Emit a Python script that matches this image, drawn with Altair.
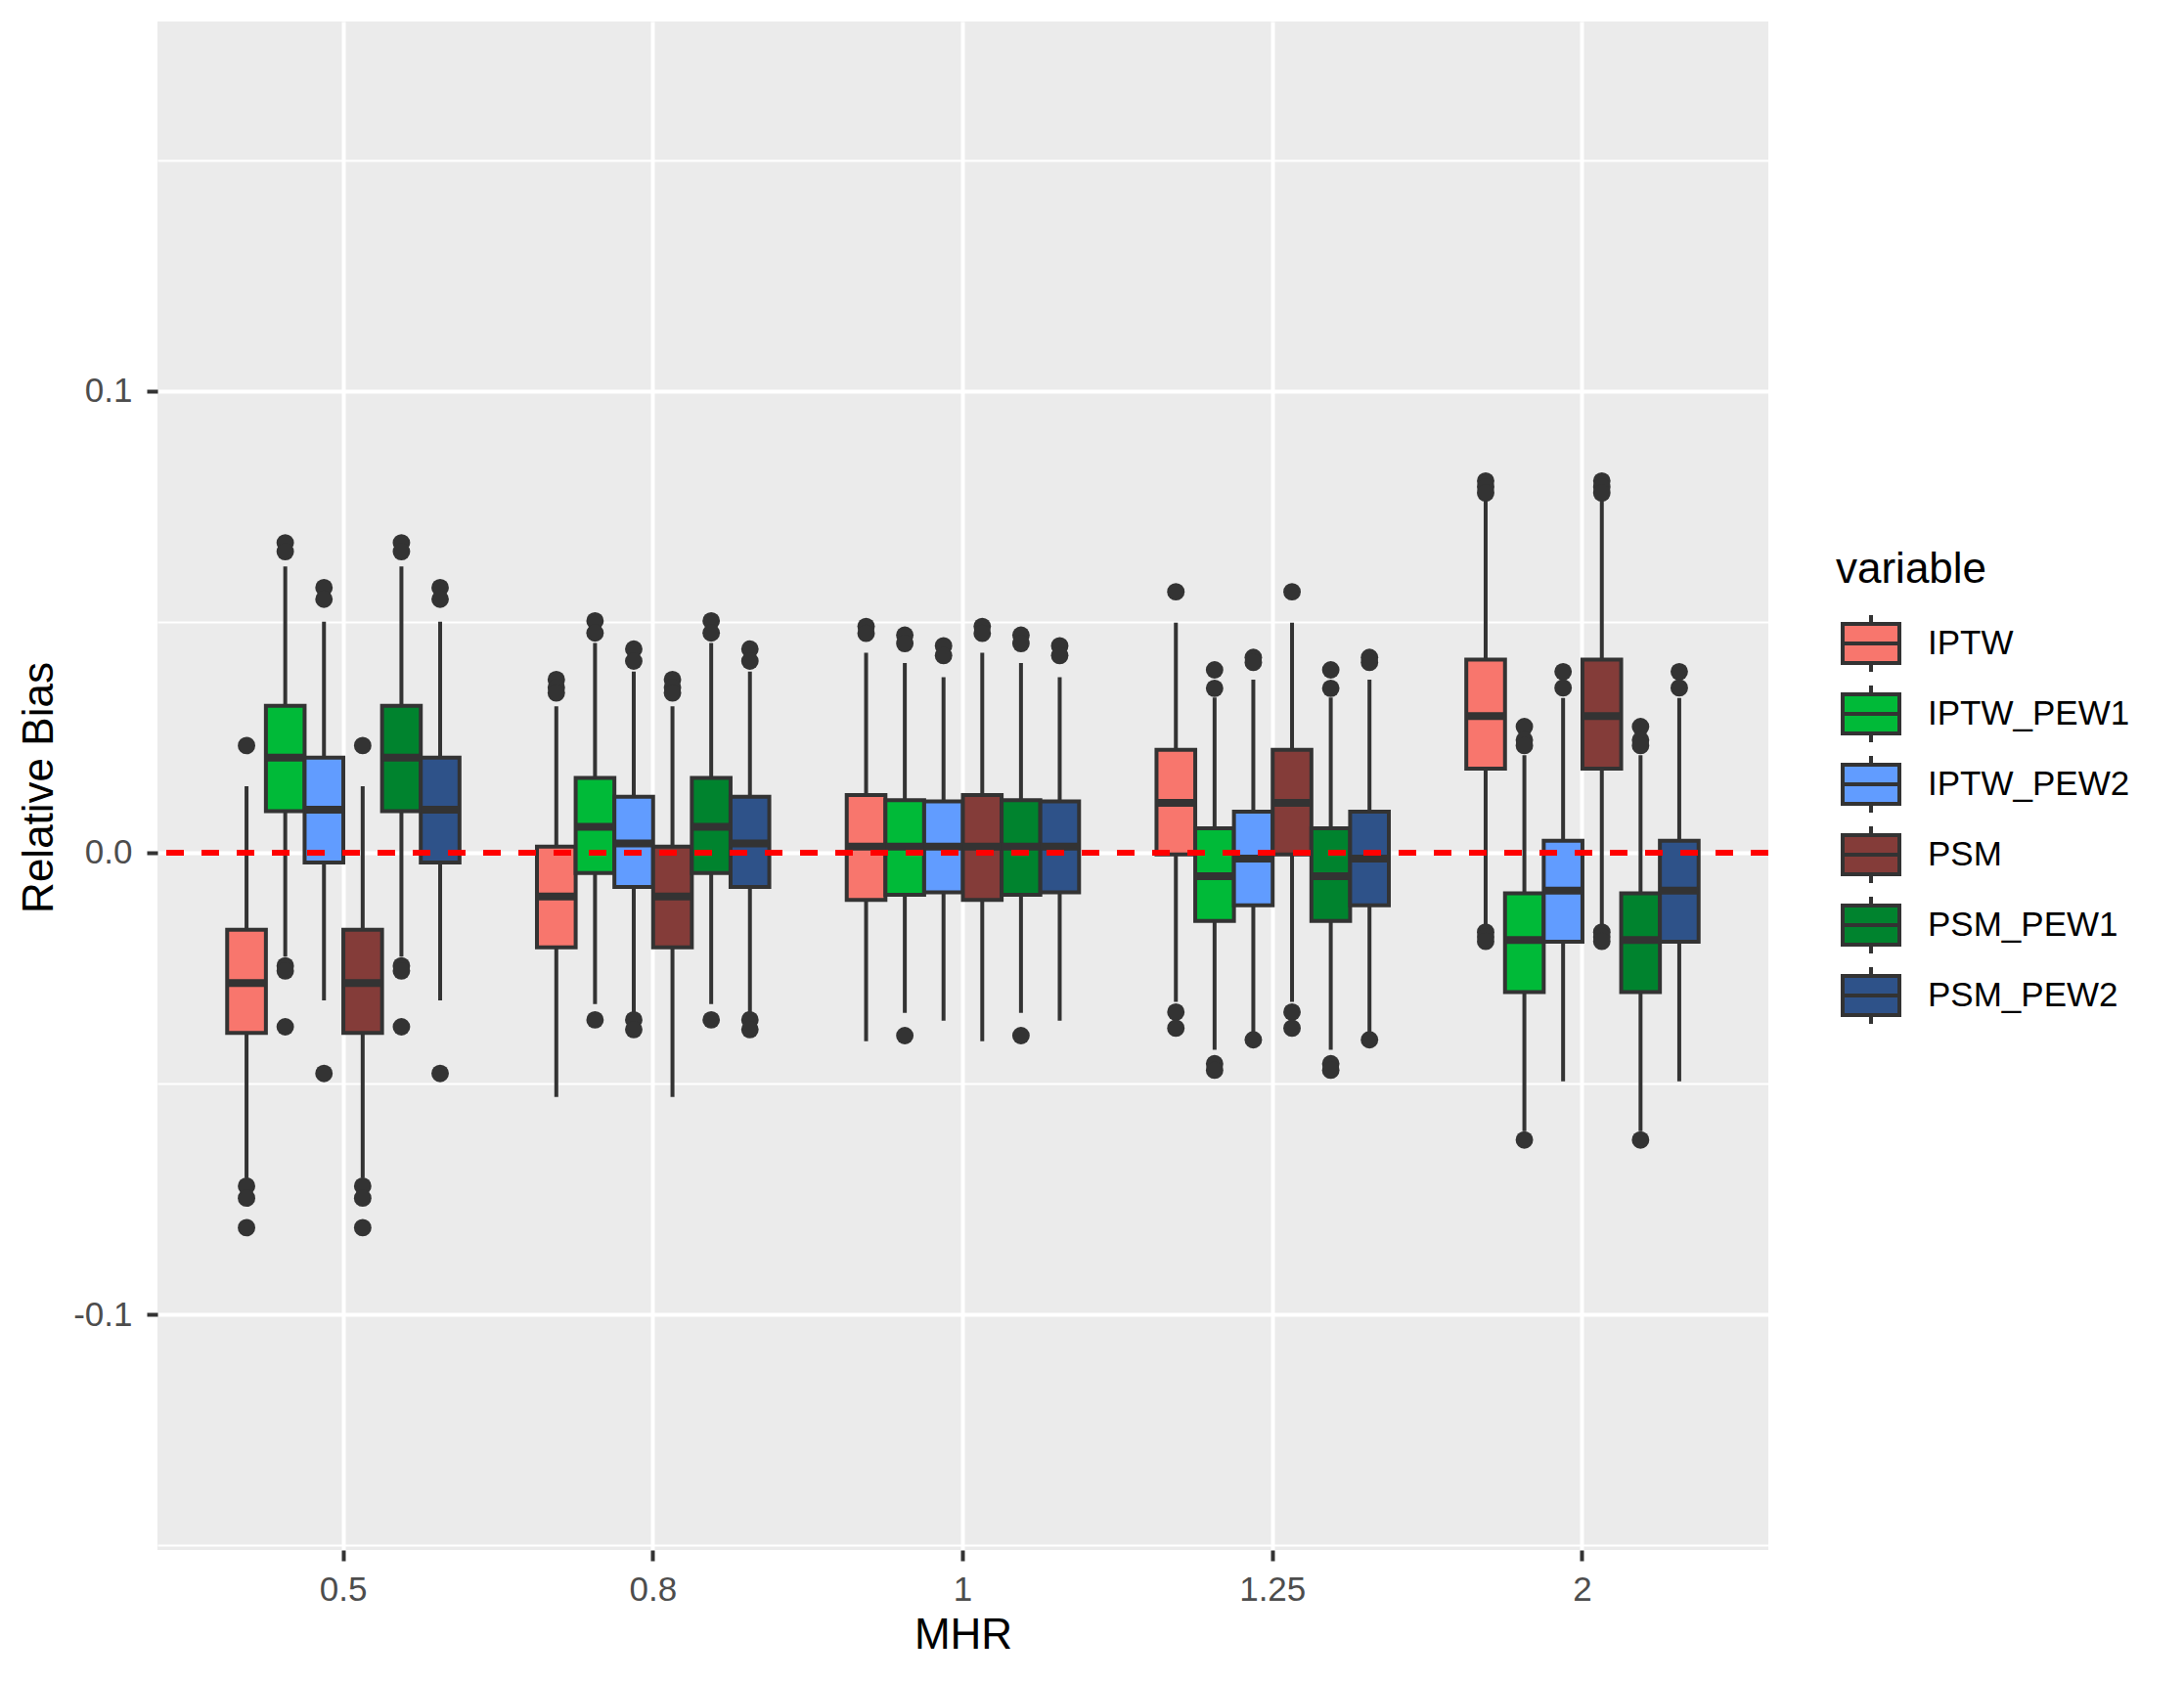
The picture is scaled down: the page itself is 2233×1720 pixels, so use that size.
import altair as alt
import pandas as pd

MHR = ["0.5", "0.8", "1", "1.25", "2"]
METHODS = ["IPTW", "IPTW_PEW1", "IPTW_PEW2", "PSM", "PSM_PEW1", "PSM_PEW2"]
COLORS = ["#F8766D", "#00BA38", "#619CFF", "#843C39", "#00832E", "#2E5289"]

# Box statistics, one value per MHR level
IPTW_LO = [-0.0705, -0.0529, -0.0408, -0.0323, -0.0155]
IPTW_Q1 = [-0.0390, -0.0205, -0.0102, -0.0004, 0.0182]
IPTW_MED = [-0.0282, -0.0095, 0.0013, 0.0108, 0.0296]
IPTW_Q3 = [-0.0167, 0.0013, 0.0125, 0.0223, 0.0418]
IPTW_HI = [0.0144, 0.0317, 0.0433, 0.0498, 0.0765]
IPTW_OUT = [[0.0232, -0.0722, -0.0748, -0.0812],
            [0.0375, 0.0358, 0.0346],
            [0.0490, 0.0475],
            [0.0565, -0.0345, -0.0380],
            [0.0805, 0.0792, 0.0779, -0.0172, -0.0182, -0.0192]]

PEW1_LO = [-0.0225, -0.0328, -0.0347, -0.0427, -0.0603]
PEW1_Q1 = [0.0090, -0.0044, -0.0091, -0.0148, -0.0302]
PEW1_MED = [0.0206, 0.0056, 0.0013, -0.0051, -0.0189]
PEW1_Q3 = [0.0318, 0.0162, 0.0114, 0.0053, -0.0088]
PEW1_HI = [0.0620, 0.0454, 0.0411, 0.0336, 0.0211]
PEW1_OUT = [[0.0671, 0.0652, -0.0245, -0.0256, -0.0377],
            [0.0502, 0.0476, -0.0362],
            [0.0471, 0.0453, -0.0396],
            [0.0396, 0.0356, -0.0457, -0.0471],
            [0.0273, 0.0244, 0.0232, -0.0622]]

PEW2_LO = [-0.0320, -0.0347, -0.0364, -0.0388, -0.0495]
PEW2_Q1 = [-0.0021, -0.0074, -0.0086, -0.0114, -0.0193]
PEW2_MED = [0.0093, 0.0020, 0.0013, -0.0013, -0.0082]
PEW2_Q3 = [0.0206, 0.0121, 0.0111, 0.0089, 0.0026]
PEW2_HI = [0.0500, 0.0392, 0.0380, 0.0375, 0.0335]
PEW2_OUT = [[0.0574, 0.0549, -0.0478],
            [0.0441, 0.0415, -0.0362, -0.0383],
            [0.0448, 0.0427],
            [0.0423, 0.0412, -0.0405],
            [0.0392, 0.0357]]

# PSM variants read as identical to the IPTW variants
PSM_LO, PSM_Q1, PSM_MED, PSM_Q3, PSM_HI, PSM_OUT = IPTW_LO, IPTW_Q1, IPTW_MED, IPTW_Q3, IPTW_HI, IPTW_OUT
PSMP1_LO, PSMP1_Q1, PSMP1_MED, PSMP1_Q3, PSMP1_HI, PSMP1_OUT = PEW1_LO, PEW1_Q1, PEW1_MED, PEW1_Q3, PEW1_HI, PEW1_OUT
PSMP2_LO, PSMP2_Q1, PSMP2_MED, PSMP2_Q3, PSMP2_HI, PSMP2_OUT = PEW2_LO, PEW2_Q1, PEW2_MED, PEW2_Q3, PEW2_HI, PEW2_OUT

STATS = {
    "IPTW": (IPTW_LO, IPTW_Q1, IPTW_MED, IPTW_Q3, IPTW_HI, IPTW_OUT),
    "IPTW_PEW1": (PEW1_LO, PEW1_Q1, PEW1_MED, PEW1_Q3, PEW1_HI, PEW1_OUT),
    "IPTW_PEW2": (PEW2_LO, PEW2_Q1, PEW2_MED, PEW2_Q3, PEW2_HI, PEW2_OUT),
    "PSM": (PSM_LO, PSM_Q1, PSM_MED, PSM_Q3, PSM_HI, PSM_OUT),
    "PSM_PEW1": (PSMP1_LO, PSMP1_Q1, PSMP1_MED, PSMP1_Q3, PSMP1_HI, PSMP1_OUT),
    "PSM_PEW2": (PSMP2_LO, PSMP2_Q1, PSMP2_MED, PSMP2_Q3, PSMP2_HI, PSMP2_OUT),
}

box_rows, out_rows = [], []
for m in METHODS:
    lo, q1, med, q3, hi, outs = STATS[m]
    for i, g in enumerate(MHR):
        box_rows.append(dict(MHR=g, variable=m, lo=lo[i], q1=q1[i], med=med[i], q3=q3[i], hi=hi[i]))
        for v in outs[i]:
            out_rows.append(dict(MHR=g, variable=m, value=v))
boxes = pd.DataFrame(box_rows)
outliers = pd.DataFrame(out_rows)

FONT = "Liberation Sans"
W, H = 1647, 1563
minor = "abs(round(datum.value*100)) % 10 != 0"

x = alt.X("MHR:N", sort=MHR, title="MHR",
          scale=alt.Scale(type="band", domain=MHR, paddingInner=0.25, paddingOuter=0.225),
          axis=alt.Axis(labelAngle=0, bandPosition=0.5, tickSize=11, tickWidth=4, labelPadding=12,
                        grid=True, gridWidth=4, titleX=W / 2, titleY=87,
                        titleBaseline="middle"))
xo = alt.XOffset("variable:N", sort=METHODS,
                 scale=alt.Scale(domain=METHODS, paddingInner=0, paddingOuter=0))
yscale = alt.Scale(domain=[-0.151, 0.180], nice=False, zero=False)
yaxis = alt.Axis(values=[-0.15, -0.1, -0.05, 0, 0.05, 0.1, 0.15],
                 labelExpr="abs(round(datum.value*100)) % 10 == 0 ? replace(format(datum.value, '.1f'), '\u2212', '-') : ''",
                 tickSize=11, tickWidth=4, labelPadding=15,
                 tickOpacity={"condition": {"test": minor, "value": 0}, "value": 1},
                 gridWidth={"condition": {"test": minor, "value": 2}, "value": 4},
                 titleX=-121, titleY=783, titleAngle=270, titleBaseline="middle", titleAlign="center")

base = alt.Chart(boxes)

whisk = base.mark_rule(color="#333333", strokeWidth=4).encode(
    x=x, xOffset=xo,
    y=alt.Y("lo:Q", scale=yscale, axis=yaxis, title="Relative Bias"),
    y2="hi:Q")

box = base.mark_bar(stroke="#333333", strokeWidth=4, opacity=1).encode(
    x=x, xOffset=xo,
    y=alt.Y("q1:Q", scale=yscale),
    y2="q3:Q",
    color=alt.Color("variable:N", sort=METHODS,
                    scale=alt.Scale(domain=METHODS, range=COLORS),
                    legend=alt.Legend(title="variable", orient="none", legendX=1716, legendY=539,
                                      symbolType="M-1,-0.69H1V0.69H-1Z M-1,0H1 M0,-0.69V-1 M0,0.69V1",
                                      symbolSize=3364, symbolStrokeColor="#333333",
                                      symbolStrokeWidth=4, symbolOffset=5, labelOffset=27,
                                      rowPadding=-2, titlePadding=22, padding=0, labelLimit=500,
                                      labelFontSize=35, labelFont=FONT, labelColor="#000000",
                                      titleFontSize=44, titleFont=FONT, titleColor="#000000",
                                      titleFontWeight="normal", symbolOpacity=1)))

median = base.mark_tick(color="#333333", thickness=8, size=40, opacity=1).encode(
    x=x, xOffset=xo, y=alt.Y("med:Q", scale=yscale))

pts = alt.Chart(outliers).mark_circle(color="#333333", size=320, opacity=1).encode(
    x=x, xOffset=xo, y=alt.Y("value:Q", scale=yscale))

hline = alt.Chart(boxes).mark_rule(color="#FF0000", strokeWidth=4.5, strokeDash=[18, 18]).encode(
    y=alt.datum(0))

chart = alt.layer(whisk, box, median, pts, hline).properties(
    width=W, height=H,
    autosize=alt.AutoSizeParams(type="none"),
    padding={"left": 153, "top": 14, "right": 401, "bottom": 125},
    background="#FFFFFF",
).configure_view(fill="#EBEBEB", stroke=None).configure_axis(
    gridColor="#FFFFFF", domain=False, tickColor="#333333",
    labelColor="#4D4D4D", labelFont=FONT, labelFontSize=35,
    titleFont=FONT, titleFontSize=44, titleColor="#000000", titleFontWeight="normal",
)

chart.save("out.html", embed_options={"renderer": "svg", "actions": False})
